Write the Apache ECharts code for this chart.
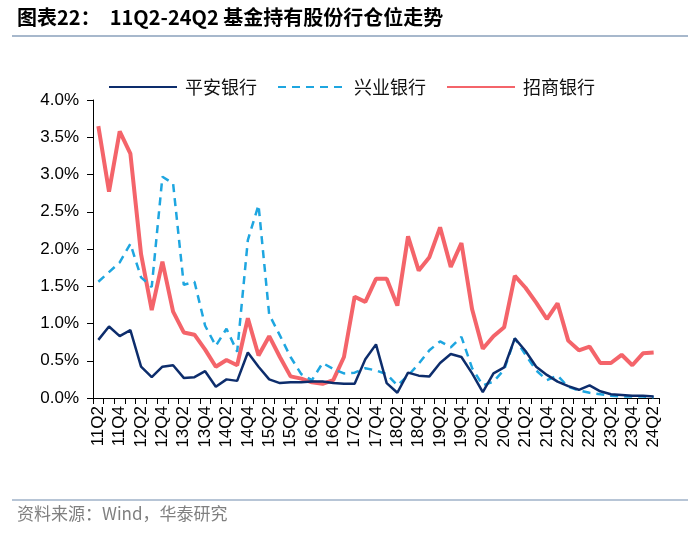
<!DOCTYPE html>
<html>
<head>
<meta charset="utf-8">
<script src="https://cdn.jsdelivr.net/npm/echarts@6/dist/echarts.min.js"></script>
<style>
html,body{margin:0;padding:0;background:#fff;}
#c{width:700px;height:535px;}
</style>
</head>
<body>
<div id="c"></div>
<script>
const categories = ['11Q2','11Q3','11Q4',
 '12Q1','12Q2','12Q3','12Q4','13Q1','13Q2','13Q3','13Q4','14Q1','14Q2','14Q3','14Q4',
 '15Q1','15Q2','15Q3','15Q4','16Q1','16Q2','16Q3','16Q4','17Q1','17Q2','17Q3','17Q4',
 '18Q1','18Q2','18Q3','18Q4','19Q1','19Q2','19Q3','19Q4','20Q1','20Q2','20Q3','20Q4',
 '21Q1','21Q2','21Q3','21Q4','22Q1','22Q2','22Q3','22Q4','23Q1','23Q2','23Q3','23Q4',
 '24Q1','24Q2'];
// 平安银行 (%)
const pingan = [0.78,0.96,0.83,0.91,0.42,0.28,0.42,0.44,0.27,0.28,0.36,0.15,0.25,0.23,0.61,
 0.42,0.25,0.20,0.21,0.21,0.22,0.22,0.20,0.19,0.19,0.52,0.72,0.20,0.07,0.34,0.30,0.29,
 0.47,0.59,0.55,0.33,0.08,0.33,0.41,0.80,0.63,0.42,0.31,0.22,0.16,0.11,0.17,0.09,0.05,
 0.04,0.03,0.03,0.02];
// 兴业银行 (%)
const xingye = [1.56,1.69,1.82,2.07,1.62,1.49,2.97,2.88,1.52,1.56,0.97,0.70,0.93,0.62,2.12,
 2.59,1.12,0.84,0.55,0.32,0.24,0.47,0.39,0.33,0.34,0.40,0.37,0.32,0.17,0.30,0.46,0.64,
 0.76,0.68,0.82,0.40,0.17,0.22,0.38,0.80,0.58,0.37,0.24,0.30,0.15,0.10,0.07,0.05,0.03,
 0.02,0.02,0.02,0.01];
// 招商银行 (%)
const zhaoshang = [3.65,2.77,3.58,3.28,1.93,1.18,1.83,1.16,0.88,0.85,0.65,0.42,0.51,0.44,1.07,
 0.57,0.83,0.55,0.29,0.26,0.21,0.19,0.24,0.55,1.36,1.29,1.60,1.60,1.24,2.17,1.71,1.89,
 2.29,1.76,2.08,1.19,0.66,0.83,0.95,1.64,1.48,1.28,1.06,1.27,0.77,0.64,0.69,0.47,0.47,
 0.58,0.44,0.60,0.61];
const seriesNames = ['平安银行','兴业银行','招商银行'];
const yTicks = {min:0, max:4, interval:0.5};

const chart = echarts.init(document.getElementById('c'));
const axisColor = '#000';
chart.setOption({
  animation:false,
  backgroundColor:'#fff',
  graphic:[
    {type:'text', left:17, top:7, style:{text:'图表22：  11Q2-24Q2 基金持有股份行仓位走势', font:'bold 20px "Noto Sans CJK SC", sans-serif', fill:'#000'}},
    {type:'line', shape:{x1:12,y1:36,x2:688,y2:36}, style:{stroke:'#8aa0bb', lineWidth:1.5}},
    {type:'line', shape:{x1:12,y1:500,x2:688,y2:500}, style:{stroke:'#9fb2c8', lineWidth:1.5}},
    {type:'text', left:17, top:505, style:{text:'资料来源：Wind，华泰研究', font:'17px "Noto Sans CJK SC", sans-serif', fill:'#808080'}}
  ],
  legend:{
    left:108, top:78, padding:0, itemWidth:68, itemHeight:12, itemGap:20,
    itemStyle:{opacity:0},
    textStyle:{fontFamily:'"Noto Sans CJK SC", sans-serif', fontSize:18, color:'#111', padding:[0,0,0,3]},
    data:seriesNames
  },
  grid:{left:93, right:41, top:100, bottom:137},
  xAxis:{
    type:'category', data:categories, boundaryGap:true,
    axisLine:{lineStyle:{color:axisColor, width:1}},
    axisTick:{show:true, interval:0, length:6, lineStyle:{color:axisColor}},
    axisLabel:{interval:1, rotate:90, fontFamily:'"Liberation Sans", Arial, sans-serif', fontSize:17, color:'#000', margin:8},
    splitLine:{show:false}
  },
  yAxis:{
    type:'value', min:yTicks.min, max:yTicks.max, interval:yTicks.interval,
    axisLine:{show:true, lineStyle:{color:axisColor, width:1}},
    axisTick:{show:true, length:6, lineStyle:{color:axisColor}},
    axisLabel:{formatter:v=>v.toFixed(1)+'%', fontFamily:'"Liberation Sans", Arial, sans-serif', fontSize:17, color:'#000', margin:14},
    splitLine:{show:false}
  },
  series:[
    {name:seriesNames[0], type:'line', data:pingan, symbol:'none', color:'#0d2d6c',
     lineStyle:{color:'#0d2d6c', width:2.5}, z:3},
    {name:seriesNames[1], type:'line', data:xingye, symbol:'none', color:'#1ea6e0',
     lineStyle:{color:'#1ea6e0', width:2.5, type:[8,6]}, z:2},
    {name:seriesNames[2], type:'line', data:zhaoshang, symbol:'none', color:'#f4646a',
     lineStyle:{color:'#f4646a', width:4}, z:1}
  ]
});
</script>
</body>
</html>
